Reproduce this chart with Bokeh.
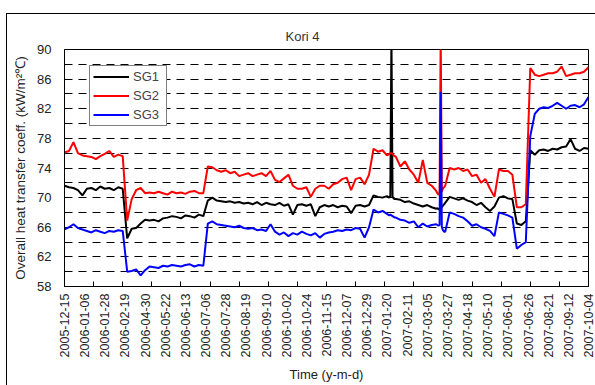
from math import pi
from bokeh.plotting import figure
from bokeh.models import Range1d, FixedTicker, Legend, LegendItem
from bokeh.embed import file_html
from bokeh.resources import INLINE

# category axis: one label every 18 samples, tick marks every 26 samples
tick_labels = ["2005-12-15", "2006-01-06", "2006-01-28", "2006-02-19", "2006-04-30",
               "2006-05-22", "2006-06-13", "2006-07-06", "2006-07-28", "2006-08-19",
               "2006-09-10", "2006-10-02", "2006-10-24", "2006-11-15", "2006-12-07",
               "2006-12-29", "2007-01-20", "2007-02-11", "2007-03-05", "2007-03-27",
               "2007-04-18", "2007-05-10", "2007-06-01", "2007-06-26", "2007-08-21",
               "2007-09-12", "2007-10-04"]
LABEL_STEP = 18
MARK_STEP = 26

# sample index along the category axis (every 4th sample, every sample near the spikes)
sample_idx = ([i * 4 for i in range(73)] + [289, 290, 291, 292, 293, 294, 295]
              + [i * 4 for i in range(74, 84)] + [333, 334, 335, 336, 337, 338, 339]
              + [i * 4 for i in range(85, 118)])

sg1 = [71.6, 71.4, 71.3, 71.0, 70.3, 71.2, 71.3, 71.0, 71.5, 71.2, 71.3, 71.0, 71.4, 71.2,
       64.5, 65.8, 65.9, 66.5, 67.0, 66.9, 67.0, 66.8, 67.2, 67.3, 67.5, 67.4, 67.2, 67.6,
       67.5, 67.3, 67.7, 67.5,
       69.6, 70.0, 69.6, 69.5, 69.4, 69.5, 69.3, 69.4, 69.2, 69.3, 69.1, 69.4, 69.0, 69.3,
       69.1, 69.0, 69.3, 68.9, 69.1, 67.7, 69.0, 69.1, 68.9, 69.1, 67.5, 68.7, 69.0, 68.8,
       69.0, 68.7, 68.9, 68.8, 67.9, 68.9, 69.0, 68.8, 69.0,
       70.3, 70.1, 70.0, 70.2,
       70.1, 70.0, 70.2, 92.0, 70.1, 69.9, 69.8,
       69.8, 69.7, 69.4, 69.5, 69.2, 69.0, 68.8, 69.0, 68.7, 68.5,
       68.6, 68.4, 68.5, 68.6, 68.7, 68.9, 69.1,
       69.3, 70.1, 69.9, 69.7, 69.9, 69.6, 69.4, 69.0, 69.3, 68.7, 68.2, 68.8,
       70.0, 70.2, 69.9, 69.8, 66.5, 66.3, 66.8, 76.4, 75.8, 76.4, 76.5, 76.3, 76.6, 76.5,
       76.8, 76.9, 77.9, 76.6, 76.3, 76.7, 76.6]

sg2 = [76.1, 76.3, 77.5, 76.0, 75.7, 75.6, 75.5, 75.2, 75.6, 75.9, 76.3, 75.5, 75.8, 75.6,
       66.9, 69.8, 71.0, 71.3, 70.6, 70.7, 70.6, 70.8, 70.6, 70.4, 70.8, 70.6, 70.7, 70.5,
       70.8, 70.9, 70.6, 70.6,
       74.2, 74.1, 73.7, 73.5, 73.7, 73.3, 73.5, 72.9, 73.1, 73.3, 72.9, 73.1, 73.3, 72.9,
       73.6, 72.4, 72.1, 72.6, 73.1, 71.6, 71.2, 71.2, 71.4, 70.1, 71.2, 71.6, 71.6, 71.2,
       71.8, 72.0, 72.5, 72.7, 71.0, 72.5, 72.7, 71.8, 73.1,
       76.6, 76.2, 76.4, 75.7,
       75.8, 75.9, 76.0, 76.0, 75.9, 75.7, 75.6,
       75.5, 74.2, 74.9, 73.8, 73.1, 72.0, 75.1, 72.0, 71.6, 70.9,
       70.6, 70.4, 70.5, 92.0, 70.8, 71.2, 71.4,
       71.6, 74.0, 73.8, 74.0, 73.6, 73.8, 72.9, 73.1, 72.0, 72.5, 71.2, 70.1,
       73.8, 73.6, 73.6, 73.1, 68.7, 68.7, 69.1, 87.5, 86.6, 86.4, 86.6, 86.8, 86.8, 87.0,
       87.7, 86.4, 86.6, 86.8, 86.8, 87.0, 87.6]

sg3 = [65.7, 66.0, 66.4, 65.9, 65.7, 65.5, 65.3, 65.6, 65.4, 65.2, 65.5, 65.4, 65.6, 65.5,
       60.0, 60.1, 60.3, 59.5, 60.2, 60.7, 60.6, 60.5, 60.8, 60.7, 60.9, 60.8, 60.7, 60.9,
       61.0, 60.7, 60.9, 60.8,
       66.5, 66.8, 66.4, 66.3, 66.2, 66.1, 66.0, 66.2, 65.9, 65.8, 65.9, 65.6, 65.7, 65.5,
       66.4, 65.4, 65.0, 65.3, 64.8, 65.2, 65.0, 65.4, 65.1, 64.9, 65.2, 64.6, 65.1, 65.3,
       65.4, 65.6, 65.5, 65.7, 65.6, 65.9, 65.8, 64.6, 66.0,
       68.4, 68.0, 68.2, 67.8,
       67.7, 67.6, 67.7, 67.6, 67.5, 67.4, 67.3,
       67.3, 67.0, 66.9, 66.6, 66.8, 66.0, 66.5, 66.1, 66.3, 66.4,
       66.3, 66.2, 66.3, 84.3, 66.0, 65.6, 65.4,
       65.4, 68.0, 67.8, 67.5, 67.3, 66.8, 66.2, 66.4, 66.0, 65.8, 65.5, 64.8,
       68.0, 67.8, 67.6, 67.3, 63.1, 63.6, 64.0, 78.3, 81.3, 82.0, 82.2, 82.1, 82.4, 82.8,
       82.4, 82.0, 82.4, 82.5, 82.2, 82.6, 83.6]

y_labels = [58, 62, 66, 70, 74, 78, 82, 86, 90]
y_minor = [60, 64, 68, 72, 76, 80, 84, 88]

x_max = LABEL_STEP * (len(tick_labels) - 1)

FONT = "Liberation Sans"
TXT = "#222222"

p = figure(width=595, height=385, output_backend="svg", toolbar_location=None,
           x_range=Range1d(0, x_max), y_range=Range1d(y_labels[0], y_labels[-1]),
           min_border_left=64, min_border_right=7, min_border_top=49, min_border_bottom=95,
           background_fill_color="white", border_fill_color=None)

# outer chart-area border (left and top edges visible in the window)
p.styles = {
    "background-color": "white",
    "background-image": "linear-gradient(#000, #000), linear-gradient(#000, #000)",
    "background-position": "6px 13px, 6px 13px",
    "background-size": "1px 100%, 100% 1px",
    "background-repeat": "no-repeat",
}

p.outline_line_color = "black"
p.outline_line_width = 1

# title
p.title.text = "Kori 4"
p.title.align = "left"
p.title.offset = 221
p.title.text_font = FONT
p.title.text_font_size = "13px"
p.title.text_font_style = "normal"
p.title.text_color = "#333333"
p.title.standoff = 11

# x axis
label_pos = [i * LABEL_STEP for i in range(len(tick_labels))]
mark_pos = list(range(0, x_max + 1, MARK_STEP))
p.xaxis.ticker = FixedTicker(ticks=label_pos, minor_ticks=mark_pos)
p.xaxis.major_label_overrides = {pos: lab for pos, lab in zip(label_pos, tick_labels)}
p.xaxis.major_label_orientation = pi / 2
p.xaxis.major_tick_line_color = None
p.xaxis.major_tick_out = 0
p.xaxis.major_tick_in = 0
p.xaxis.minor_tick_line_color = "black"
p.xaxis.minor_tick_in = 5
p.xaxis.minor_tick_out = 0
p.xaxis.major_label_standoff = 7
p.xaxis.major_label_text_font = FONT
p.xaxis.major_label_text_font_size = "12.5px"
p.xaxis.major_label_text_color = TXT
p.xaxis.axis_line_color = "black"
p.xaxis.axis_label = "Time (y-m-d)"
p.xaxis.axis_label_text_font = FONT
p.xaxis.axis_label_text_font_size = "13px"
p.xaxis.axis_label_text_font_style = "normal"
p.xaxis.axis_label_text_color = TXT
p.xaxis.axis_label_standoff = 7

# y axis
p.yaxis.ticker = FixedTicker(ticks=y_labels, minor_ticks=y_minor)
p.yaxis.major_tick_out = 0
p.yaxis.major_tick_in = 0
p.yaxis.minor_tick_out = 0
p.yaxis.minor_tick_in = 0
p.yaxis.major_label_standoff = 13
p.yaxis.major_label_text_font = FONT
p.yaxis.major_label_text_font_size = "13px"
p.yaxis.major_label_text_color = TXT
p.yaxis.axis_line_color = "black"
p.yaxis.axis_label = "Overall heat transfer coeff. (kW/m²℃)"
p.yaxis.axis_label_text_font = FONT
p.yaxis.axis_label_text_font_size = "13.5px"
p.yaxis.axis_label_text_font_style = "normal"
p.yaxis.axis_label_text_color = TXT
p.yaxis.axis_label_standoff = 6

# grid
p.xgrid.grid_line_color = None
p.ygrid.grid_line_color = "black"
p.ygrid.grid_line_dash = "8 6"
p.ygrid.grid_line_width = 1
p.ygrid.minor_grid_line_color = "black"
p.ygrid.minor_grid_line_dash = "8 6"
p.ygrid.minor_grid_line_width = 1

r1 = p.line(sample_idx, sg1, line_color="black", line_width=2)
r2 = p.line(sample_idx, sg2, line_color="#ff0000", line_width=2)
r3 = p.line(sample_idx, sg3, line_color="#0000ff", line_width=2)

legend = Legend(items=[LegendItem(label="SG1", renderers=[r1]),
                       LegendItem(label="SG2", renderers=[r2]),
                       LegendItem(label="SG3", renderers=[r3])],
                location=(25, 160))
legend.border_line_color = "black"
legend.border_line_width = 1
legend.background_fill_color = "white"
legend.background_fill_alpha = 1
legend.label_text_font = FONT
legend.label_text_font_size = "13px"
legend.label_text_color = "#444444"
legend.glyph_width = 36
legend.glyph_height = 15
legend.label_height = 15
legend.label_width = 30
legend.label_standoff = 4
legend.spacing = 4
legend.padding = 3
legend.margin = 0
p.add_layout(legend)

open("out.html", "w").write(file_html(p, INLINE))
